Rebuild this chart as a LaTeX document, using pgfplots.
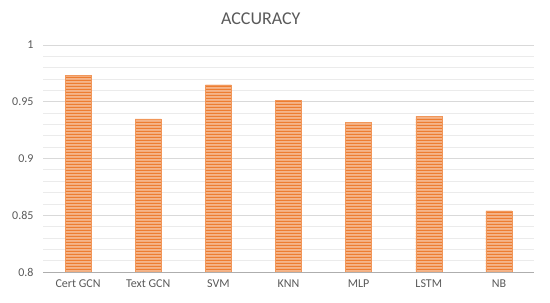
\documentclass[border=0pt]{standalone}
\usepackage{pgfplots}
\pgfplotsset{compat=1.18}
\usepackage{fontspec}
\setmainfont{Carlito}
\usetikzlibrary{patterns.meta}
\definecolor{txt}{HTML}{595959}
\definecolor{barbase}{HTML}{F5B58A}
\definecolor{barline}{HTML}{ED7D31}
\definecolor{gridmaj}{HTML}{D9D9D9}
\definecolor{gridmin}{HTML}{EBEBEB}
\tikzdeclarepattern{
  name=hstripes,
  type=uncolored,
  bottom left={(0,0)},
  top right={(1bp,3bp)},
  tile size={(1bp,3bp)},
  code={\fill (0,0) rectangle (1bp,1.6bp);}
}
\begin{document}
\begin{tikzpicture}
\path[use as bounding box] (-43bp,-31bp) rectangle (507bp,272bp);
\begin{axis}[
  scale only axis,
  width=491bp, height=227bp,
  ymin=0.8, ymax=1,
  xmin=-0.5, xmax=6.5,
  xtick=data,
  xticklabels={Cert GCN,Text GCN,SVM,KNN,MLP,LSTM,NB},
  ytick={0.8,0.85,0.9,0.95,1},
  yticklabels={0.8,0.85,0.9,0.95,1},
  minor ytick={0.81,0.82,0.83,0.84,0.86,0.87,0.88,0.89,0.91,0.92,0.93,0.94,0.96,0.97,0.98,0.99},
  ymajorgrids, yminorgrids,
  major grid style={gridmaj, line width=0.8bp},
  minor grid style={gridmin, line width=0.8bp},
  axis x line*=bottom,
  axis y line*=left,
  axis line style={draw=none},
  major tick length=0pt, minor tick length=0pt,
  tick style={draw=none},
  ticklabel style={font=\fontsize{12bp}{14bp}\selectfont, text=txt},
  yticklabel style={xshift=-6bp},
  xticklabel style={yshift=-4bp},
  ybar, bar width=26bp,
  title={\fontsize{18bp}{20bp}\selectfont ACCURACY},
  title style={text=txt, at={(axis description cs:0.4435,1)}, anchor=south, yshift=11bp},
  clip=false,
]
\addplot[draw=barline!80, line width=0.4bp, fill=barbase,
  postaction={pattern={hstripes}, pattern color=barline}]
  coordinates {(0,0.973) (1,0.935) (2,0.965) (3,0.951) (4,0.932) (5,0.937) (6,0.854)};
\draw[color=gridmaj!80!black, line width=1bp] (axis cs:-0.5,0.8) -- (axis cs:6.5,0.8);
\end{axis}
\end{tikzpicture}
\end{document}
